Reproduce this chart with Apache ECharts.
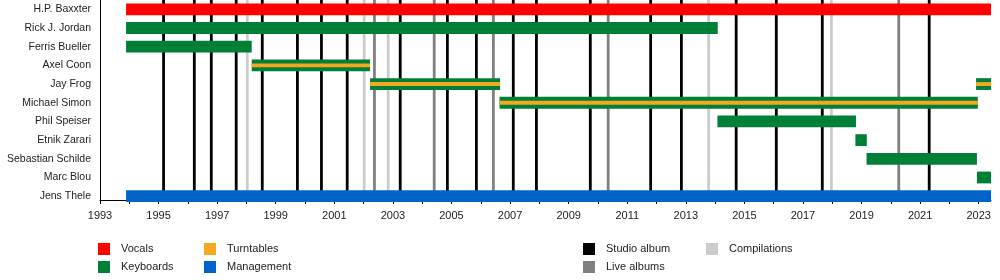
<!DOCTYPE html>
<html>
<head>
<meta charset="utf-8">
<script src="https://cdn.jsdelivr.net/npm/echarts@6/dist/echarts.min.js"></script>
<style>html,body{margin:0;padding:0;background:#fff;}#c{width:1000px;height:280px;}</style>
</head>
<body>
<div id="c"></div>
<script>
var members = ['H.P. Baxxter','Rick J. Jordan','Ferris Bueller','Axel Coon','Jay Frog','Michael Simon','Phil Speiser','Etnik Zarari','Sebastian Schilde','Marc Blou','Jens Thele'];
var yearMin = 1993, yearMax = 2023.42;
var tickYears = [1993,1994,1995,1996,1997,1998,1999,2000,2001,2002,2003,2004,2005,2006,2007,2008,2009,2010,2011,2012,2013,2014,2015,2016,2017,2018,2019,2020,2021,2022,2023];
var labelYears = [1993,1995,1997,1999,2001,2003,2005,2007,2009,2011,2013,2015,2017,2019,2021,2023];
// [row, start, end]
var vocals = [[0,1993.89,2023.42]];
var keyboards = [[1,1993.89,2014.09],[2,1993.89,1998.18],[3,1998.18,2002.22],[4,2002.22,2006.66],[4,2022.91,2023.42],[5,2006.64,2022.97],[6,2014.08,2018.81],[7,2018.79,2019.18],[8,2019.17,2022.94],[9,2022.94,2023.42]];
var turntables = [[3,1998.18,2002.22],[4,2002.22,2006.66],[4,2022.91,2023.42],[5,2006.64,2022.97]];
var management = [[10,1993.89,2023.42]];
var studioAlbums = [1995.17,1996.22,1996.80,1997.65,1998.54,1999.74,2000.56,2001.44,2003.25,2004.86,2005.85,2007.11,2007.90,2009.74,2011.80,2012.85,2014.72,2016.09,2017.66,2021.31];
var liveAlbums = [2002.37,2004.41,2006.43,2010.35,2020.27];
var compilations = [1998.03,2002.02,2002.84,2013.78,2017.97];

var FONT = 'Liberation Sans, Arial, sans-serif';
function barRenderer(ratio){
  return function(params, api){
    var row = api.value(0);
    var p0 = api.coord([api.value(1), row]);
    var p1 = api.coord([api.value(2), row]);
    var h = api.size([0,1])[1] * ratio;
    return {type:'rect', shape:{x:p0[0], y:p0[1]-h/2, width:p1[0]-p0[0], height:h}, style:{fill: api.visual('color')}};
  };
}
function lineRenderer(params, api){
  var a = api.coord([api.value(0), 0]);
  var b = api.coord([api.value(0), 1]);
  return {type:'line', shape:{x1:a[0], y1:a[1], x2:b[0], y2:b[1]}, style:{stroke: api.visual('color'), lineWidth: 2.8}};
}
function barSeries(name, data, color, ratio, z){
  return {name:name, type:'custom', xAxisIndex:0, yAxisIndex:0, renderItem:barRenderer(ratio), data:data, encode:{x:[1,2], y:0}, itemStyle:{color:color}, z:z, silent:true};
}
function lineSeries(name, data, color){
  return {name:name, type:'custom', xAxisIndex:1, yAxisIndex:1, renderItem:lineRenderer, data:data.map(function(v){return [v];}), encode:{x:0}, itemStyle:{color:color}, z:1, silent:true};
}
function makeLegend(names, left){
  return {data:names, orient:'vertical', left:left, top:243, height:40, padding:0, itemWidth:12, itemHeight:12, itemGap:6, icon:'rect', selectedMode:false,
    textStyle:{fontFamily:FONT, fontSize:11, color:'#222', padding:[0,0,0,6]}};
}
var chart = echarts.init(document.getElementById('c'), null, {renderer:'canvas'});
chart.setOption({
  animation:false,
  backgroundColor:'#fff',
  grid:[
    {left:100, right:9, top:-3.5, height:209},
    {left:100, right:9, top:0, height:200}
  ],
  xAxis:[
    {gridIndex:0, type:'value', min:yearMin, max:yearMax, show:false},
    {gridIndex:1, type:'value', min:yearMin, max:yearMax,
      axisLine:{show:true, lineStyle:{color:'#000', width:1}},
      axisTick:{show:true, customValues:tickYears, length:4, lineStyle:{color:'#000'}},
      axisLabel:{customValues:labelYears, fontFamily:FONT, fontSize:11, color:'#222', margin:10,
        formatter:function(v){return String(v);}},
      splitLine:{show:false}}
  ],
  yAxis:[
    {gridIndex:0, type:'category', data:members, inverse:true,
      axisLine:{show:false}, axisTick:{show:false}, splitLine:{show:false},
      axisLabel:{fontFamily:FONT, fontSize:10.5, color:'#222', margin:9}},
    {gridIndex:1, type:'value', min:0, max:1,
      axisLine:{show:true, lineStyle:{color:'#000', width:1}}, axisTick:{show:false}, axisLabel:{show:false}, splitLine:{show:false}}
  ],
  legend:[
    makeLegend(['Vocals','Keyboards'], 98),
    makeLegend(['Turntables','Management'], 204),
    makeLegend(['Studio album','Live albums'], 583),
    makeLegend(['Compilations'], 706)
  ],
  series:[
    lineSeries('Studio album', studioAlbums, '#000000'),
    lineSeries('Live albums', liveAlbums, '#808080'),
    lineSeries('Compilations', compilations, '#cccccc'),
    barSeries('Vocals', vocals, '#ff0000', 12/19, 3),
    barSeries('Keyboards', keyboards, '#008036', 12/19, 3),
    barSeries('Turntables', turntables, '#f5a623', 4/19, 4),
    barSeries('Management', management, '#0064c8', 12/19, 3)
  ]
});
</script>
</body>
</html>
